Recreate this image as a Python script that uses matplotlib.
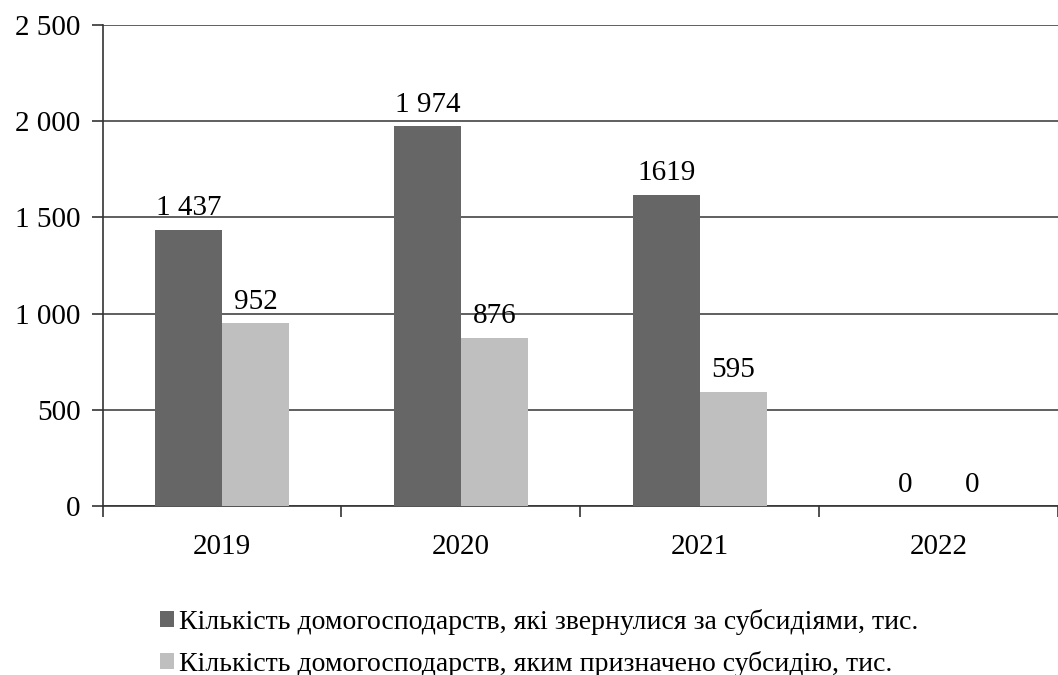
import matplotlib
matplotlib.use("Agg")
import matplotlib.pyplot as plt
import numpy as np

plt.rcParams['font.family'] = ['Liberation Serif', 'DejaVu Serif']

years = ['2019', '2020', '2021', '2022']
applied = [1437, 1974, 1619, 0]
granted = [952, 876, 595, 0]
applied_labels = ['1 437', '1 974', '1619', '0']
granted_labels = ['952', '876', '595', '0']
yticks = [0, 500, 1000, 1500, 2000, 2500]
ytick_labels = ['0', '500', '1 000', '1 500', '2 000', '2 500']
legend_names = ['Кількість домогосподарств, які звернулися за субсидіями, тис.',
                'Кількість домогосподарств, яким призначено субсидію, тис.']

fig = plt.figure(figsize=(10.58, 6.75), dpi=100)
ax = fig.add_axes([0.097, 0.25, 0.903, 0.713])

x = np.arange(len(years))
w = 0.28
b1 = ax.bar(x - w/2, applied, w, color='#666666', zorder=3)
b2 = ax.bar(x + w/2, granted, w, color='#bfbfbf', zorder=3)
ax.bar_label(b1, labels=applied_labels, padding=6, fontsize=21)
ax.bar_label(b2, labels=granted_labels, padding=6, fontsize=21)

ax.set_ylim(0, 2500)
ax.set_xlim(-0.5, 3.48)
ax.set_yticks(yticks)
ax.set_yticklabels(ytick_labels, fontsize=21)
ax.yaxis.grid(True, color='#444444', linewidth=1.2, zorder=0)
ax.set_axisbelow(True)

# category separators as ticks
ax.set_xticks(np.arange(len(years) + 1) - 0.5)
ax.set_xticklabels([])
ax.set_xticks(x, minor=True)
ax.set_xticklabels(years, minor=True, fontsize=21)
ax.tick_params(axis='x', which='minor', length=0, pad=20)
ax.tick_params(axis='x', which='major', length=8, width=1.2, color='#333333')
ax.tick_params(axis='y', length=8, width=1.2, color='#333333', pad=8)

for s in ['top', 'right']:
    ax.spines[s].set_visible(False)
for s in ['left', 'bottom']:
    ax.spines[s].set_color('#333333')
    ax.spines[s].set_linewidth(1.2)

fig.legend([b1, b2], legend_names, loc='upper left', bbox_to_anchor=(0.138, 0.118),
           frameon=False, fontsize=20, handlelength=0.5, handleheight=0.5,
           handletextpad=0.2, labelspacing=0.55, borderpad=0)

fig.savefig('out.png', dpi=100)
